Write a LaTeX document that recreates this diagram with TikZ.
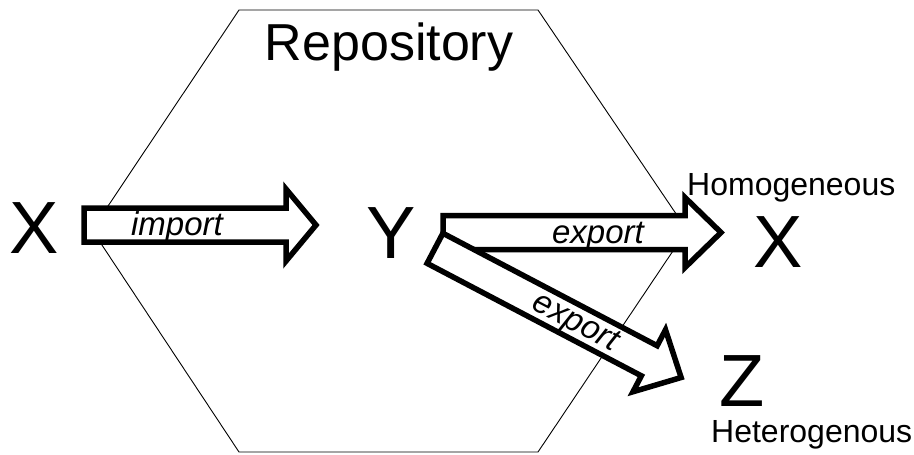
\documentclass[tikz,border=0pt]{standalone}
\usepackage{fontspec}
\setmainfont{Liberation Sans}
\begin{document}
\begin{tikzpicture}[x=1pt,y=-1pt,
  hexline/.style={draw=black, line width=0.9pt},
  blockarrow/.style={draw=black, fill=white, line width=5.5pt, line join=miter},
  bigletter/.style={font=\fontsize{74}{74}\selectfont, inner sep=0pt, anchor=base},
  title/.style={font=\fontsize{52}{52}\selectfont, inner sep=0pt, anchor=base},
  caption/.style={font=\fontsize{32}{32}\selectfont, inner sep=0pt, anchor=base west},
  arrowtext/.style={font=\itshape\fontsize{33}{33}\selectfont, inner sep=0pt, anchor=base}]
\useasboundingbox (0,0) rectangle (914,455);
% hexagon
\draw[hexline] (239,10) -- (538,10) -- (687,230) -- (538,452) -- (239,452) -- (92,230) -- cycle;
\node[title] (repo) at (389,60) {Repository};
% letters
\node[bigletter] (xl) at (34,253) {X};
\node[bigletter] (y) at (391,258) {Y};
\node[bigletter] (xr) at (778,267) {X};
\node[bigletter] (z) at (742,406) {Z};
\node[caption] (hom) at (687,195) {Homogeneous};
\node[caption] (het) at (711,442) {Heterogenous};
% import arrow
\begin{scope}[shift={(84,225)}]
  \draw[blockarrow] (0,-17) -- (202,-17) -- (202,-36) -- (232,0) -- (202,36) -- (202,17) -- (0,17) -- cycle;
  \node[arrowtext] (imp) at (93,10) {import};
\end{scope}
% export arrow (homogeneous)
\begin{scope}[shift={(443,232.5)}]
  \draw[blockarrow] (0,-17) -- (242,-17) -- (242,-35) -- (278,0) -- (242,35) -- (242,17) -- (0,17) -- cycle;
  \node[arrowtext] (exp1) at (155,11) {export};
\end{scope}
% export arrow (heterogenous)
\begin{scope}[shift={(435,248.3)}, rotate=-27.7]
  \draw[blockarrow] (0,-17) -- (242,-17) -- (242,-35) -- (278,0) -- (242,35) -- (242,17) -- (0,17) -- cycle;
  \node[arrowtext, rotate=-27.7] (exp2) at (159,9) {export};
\end{scope}
\end{tikzpicture}
\end{document}
